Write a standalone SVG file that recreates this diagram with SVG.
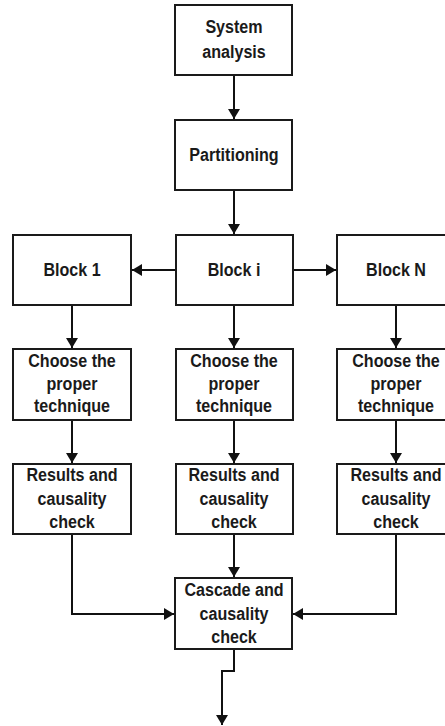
<svg xmlns="http://www.w3.org/2000/svg" width="445" height="726" viewBox="0 0 445 726">
  <style>
    .box { fill: #ffffff; stroke: #1a1a1a; stroke-width: 2; }
    .lbl { font-family: "Liberation Sans", Arial, sans-serif; font-weight: bold; font-size: 18.5px; fill: #1a1a1a; text-anchor: middle; }
    .wire { fill: none; stroke: #111111; stroke-width: 2; marker-end: url(#arrow); }
  </style>
  <defs>
    <marker id="arrow" viewBox="0 0 10 12" refX="10" refY="6" markerWidth="10" markerHeight="12" markerUnits="userSpaceOnUse" orient="auto">
      <path d="M0,0 L10,6 L0,12 Z" fill="#111111"/>
    </marker>
  </defs>

  <rect width="445" height="726" fill="#ffffff"/>

  <!-- connectors -->
  <g id="connectors">
    <path class="wire" d="M234,75 V119"/>
    <path class="wire" d="M234,190 V234"/>
    <path class="wire" d="M176,270 H132"/>
    <path class="wire" d="M293,270 H336"/>
    <path class="wire" d="M72,305 V348"/>
    <path class="wire" d="M234,305 V348"/>
    <path class="wire" d="M396,305 V348"/>
    <path class="wire" d="M72,420 V463"/>
    <path class="wire" d="M234,420 V463"/>
    <path class="wire" d="M396,420 V463"/>
    <path class="wire" d="M234,534 V577"/>
    <path class="wire" d="M72,534 V614 H174"/>
    <path class="wire" d="M396,534 V614 H293"/>
    <path class="wire" d="M234,649 V671 H222 V725"/>
  </g>

  <!-- labels use a narrowed bold face: translate to the anchor, then squeeze horizontally -->
  <g id="system-analysis">
    <rect class="box" x="175" y="5" width="117" height="70"/>
    <text class="lbl" transform="translate(234,33) scale(0.87,1)">System</text>
    <text class="lbl" transform="translate(234,58) scale(0.87,1)">analysis</text>
  </g>

  <g id="partitioning">
    <rect class="box" x="175" y="120" width="117" height="70"/>
    <text class="lbl" transform="translate(234,161) scale(0.87,1)">Partitioning</text>
  </g>

  <g id="block-1">
    <rect class="box" x="13" y="235" width="118" height="70"/>
    <text class="lbl" transform="translate(72,276) scale(0.87,1)">Block 1</text>
  </g>

  <g id="block-i">
    <rect class="box" x="176" y="235" width="117" height="70"/>
    <text class="lbl" transform="translate(234,276) scale(0.87,1)">Block i</text>
  </g>

  <g id="block-n">
    <rect class="box" x="337" y="235" width="118" height="70"/>
    <text class="lbl" transform="translate(396,276) scale(0.87,1)">Block N</text>
  </g>

  <g id="technique-1">
    <rect class="box" x="13" y="349" width="118" height="71"/>
    <text class="lbl" transform="translate(72,367) scale(0.87,1)">Choose the</text>
    <text class="lbl" transform="translate(72,390) scale(0.87,1)">proper</text>
    <text class="lbl" transform="translate(72,412) scale(0.87,1)">technique</text>
  </g>

  <g id="technique-i">
    <rect class="box" x="176" y="349" width="117" height="71"/>
    <text class="lbl" transform="translate(234,367) scale(0.87,1)">Choose the</text>
    <text class="lbl" transform="translate(234,390) scale(0.87,1)">proper</text>
    <text class="lbl" transform="translate(234,412) scale(0.87,1)">technique</text>
  </g>

  <g id="technique-n">
    <rect class="box" x="337" y="349" width="118" height="71"/>
    <text class="lbl" transform="translate(396,367) scale(0.87,1)">Choose the</text>
    <text class="lbl" transform="translate(396,390) scale(0.87,1)">proper</text>
    <text class="lbl" transform="translate(396,412) scale(0.87,1)">technique</text>
  </g>

  <g id="results-1">
    <rect class="box" x="13" y="464" width="118" height="70"/>
    <text class="lbl" transform="translate(72,481) scale(0.87,1)">Results and</text>
    <text class="lbl" transform="translate(72,505) scale(0.87,1)">causality</text>
    <text class="lbl" transform="translate(72,528) scale(0.87,1)">check</text>
  </g>

  <g id="results-i">
    <rect class="box" x="176" y="464" width="117" height="70"/>
    <text class="lbl" transform="translate(234,481) scale(0.87,1)">Results and</text>
    <text class="lbl" transform="translate(234,505) scale(0.87,1)">causality</text>
    <text class="lbl" transform="translate(234,528) scale(0.87,1)">check</text>
  </g>

  <g id="results-n">
    <rect class="box" x="337" y="464" width="118" height="70"/>
    <text class="lbl" transform="translate(396,481) scale(0.87,1)">Results and</text>
    <text class="lbl" transform="translate(396,505) scale(0.87,1)">causality</text>
    <text class="lbl" transform="translate(396,528) scale(0.87,1)">check</text>
  </g>

  <g id="cascade">
    <rect class="box" x="175" y="578" width="117" height="71"/>
    <text class="lbl" transform="translate(234,596) scale(0.87,1)">Cascade and</text>
    <text class="lbl" transform="translate(234,620) scale(0.87,1)">causality</text>
    <text class="lbl" transform="translate(234,643) scale(0.87,1)">check</text>
  </g>
</svg>
